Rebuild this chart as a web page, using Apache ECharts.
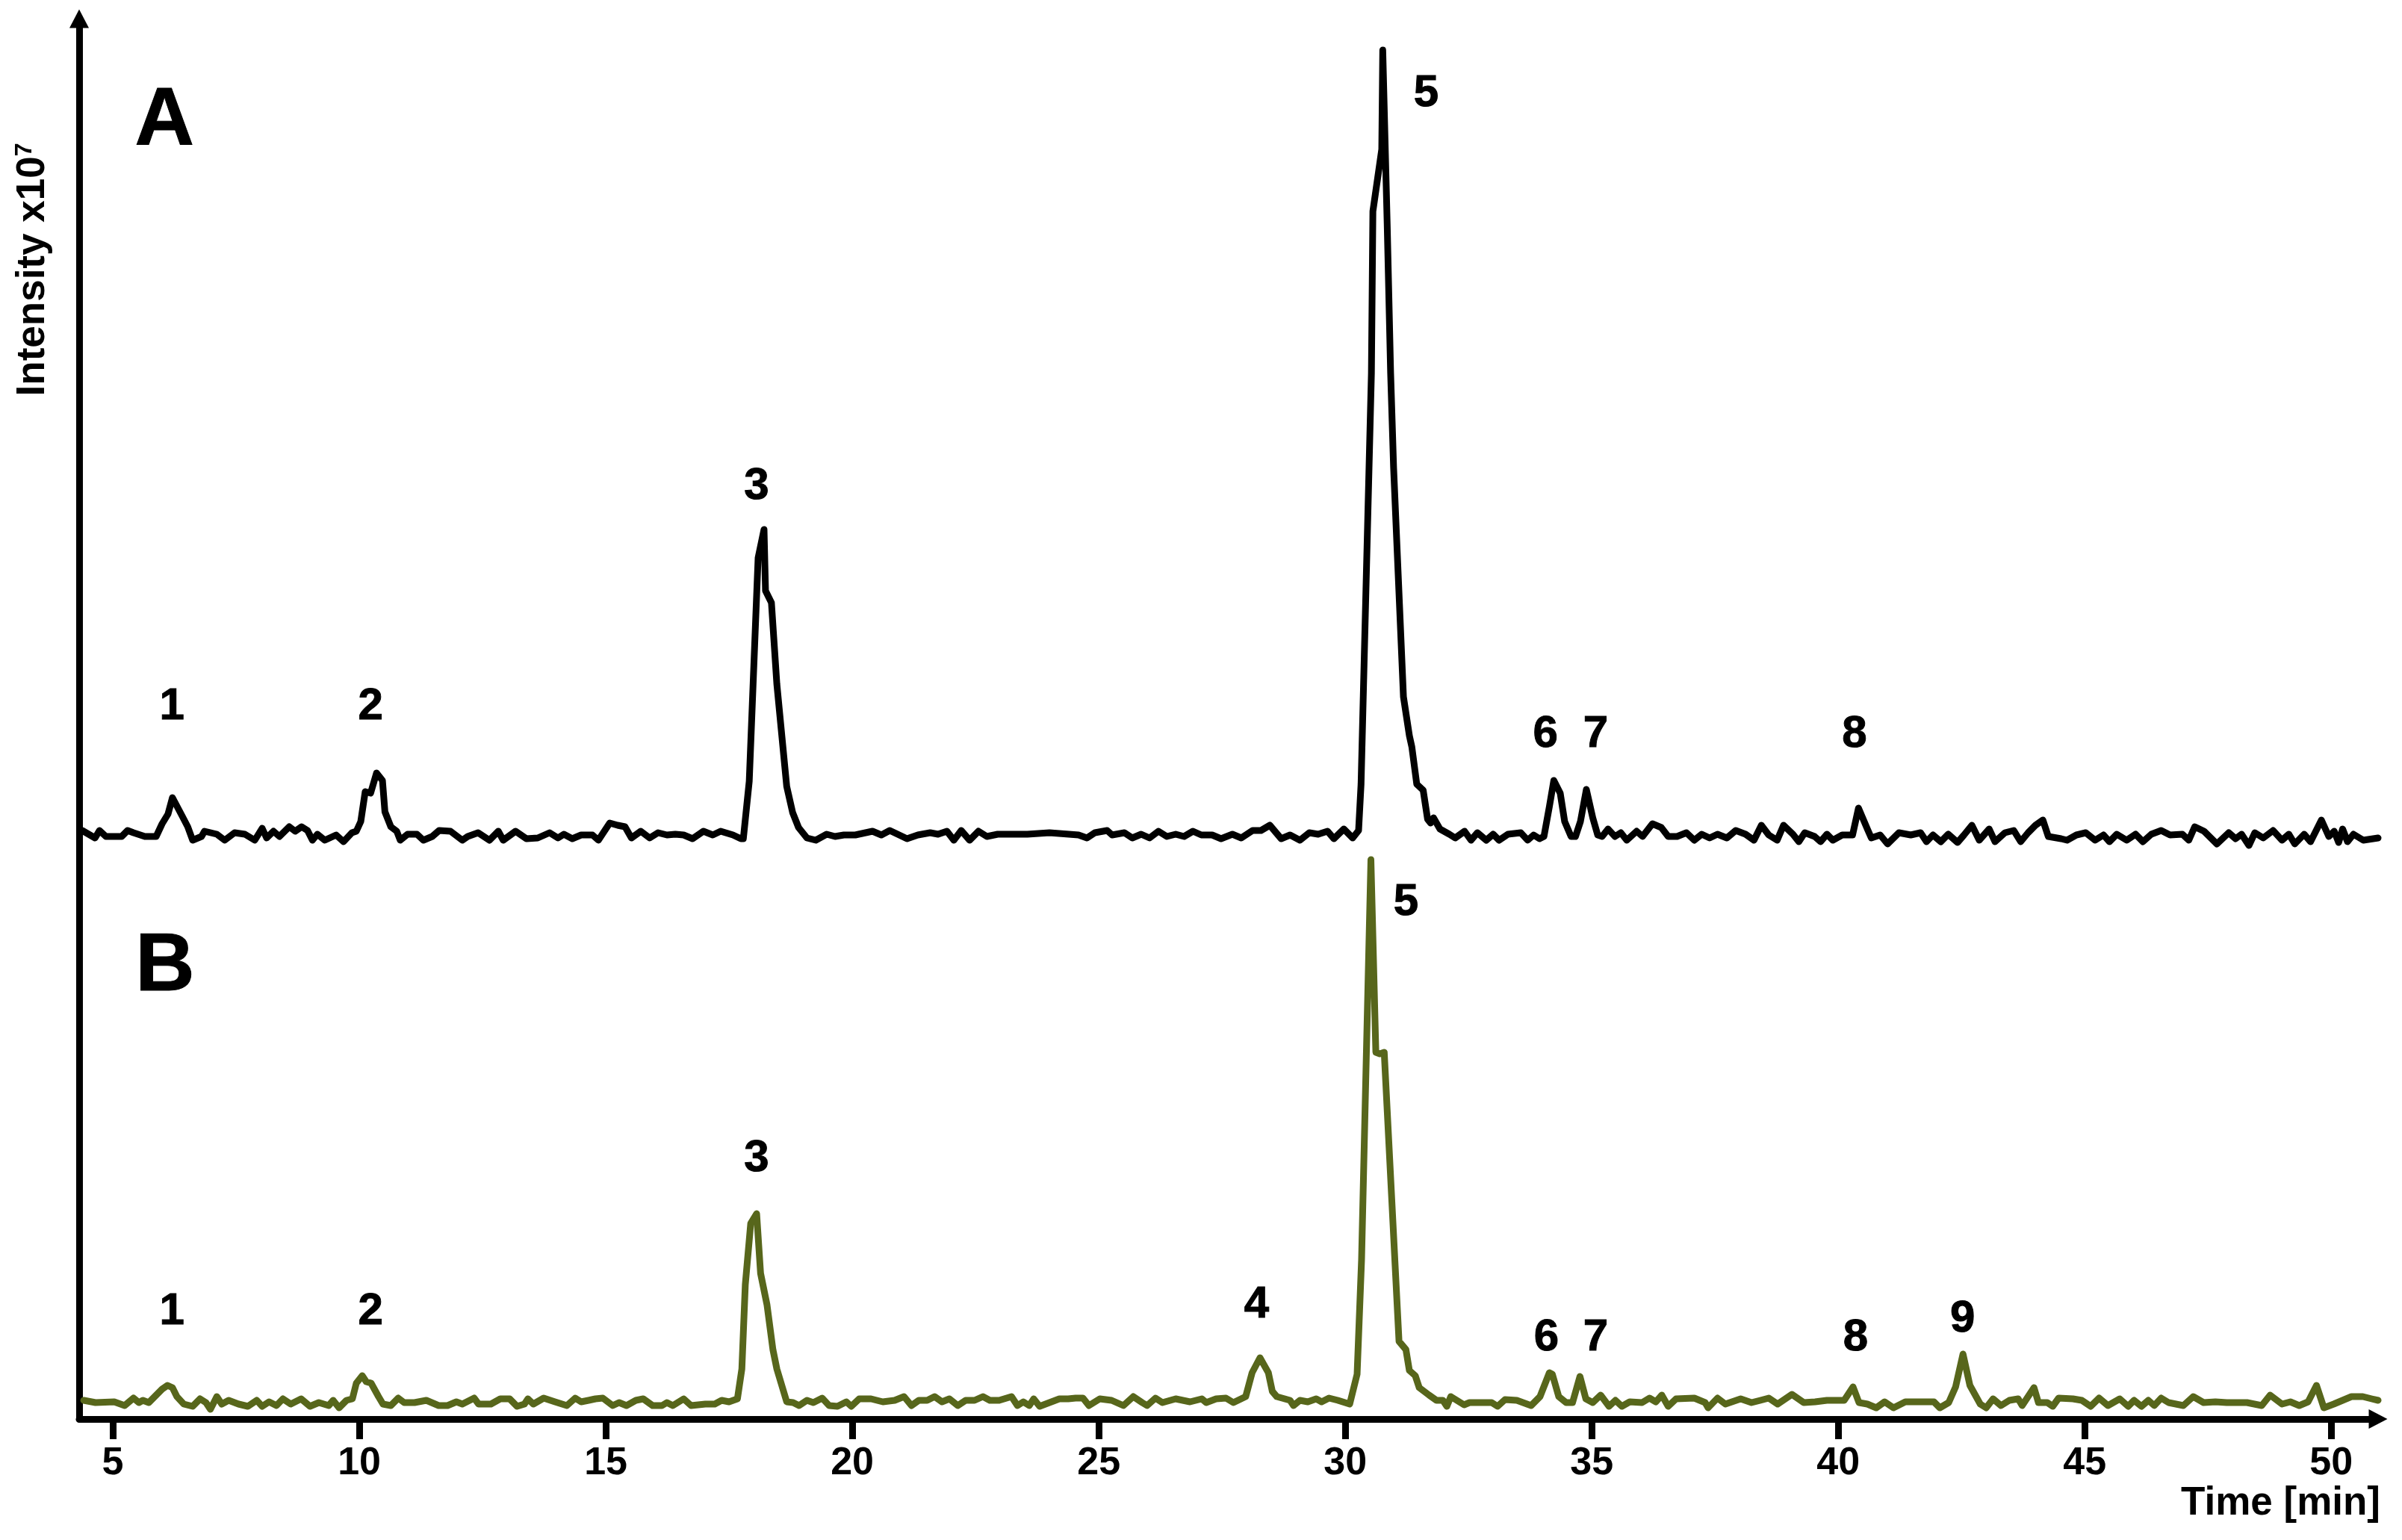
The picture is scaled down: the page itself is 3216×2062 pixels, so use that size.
<!DOCTYPE html>
<html><head><meta charset="utf-8">
<script src="https://cdn.jsdelivr.net/npm/echarts@6/dist/echarts.min.js"></script>
<style>html,body{margin:0;padding:0;background:#fff}#chart{width:3216px;height:2062px}</style>
</head><body><div id="chart"></div>
<script>
// ---- Chromatogram A (black) ----
const timeA = [4.38,4.64,4.73,4.86,5.18,5.30,5.42,5.65,5.88,6.00,6.12,6.21,6.41,6.52,6.62,6.80,6.86,7.11,7.27,7.47,7.68,7.88,8.03,8.12,8.26,8.38,8.58,8.70,8.83,8.95,9.05,9.15,9.30,9.53,9.68,9.85,9.94,10.03,10.12,10.23,10.35,10.47,10.52,10.64,10.76,10.83,10.98,11.17,11.30,11.48,11.62,11.85,12.09,12.20,12.41,12.64,12.82,12.92,13.17,13.39,13.62,13.86,14.03,14.15,14.32,14.50,14.73,14.85,15.08,15.24,15.39,15.52,15.71,15.89,16.06,16.24,16.41,16.58,16.76,16.98,17.17,17.33,17.58,17.74,17.79,17.91,18.09,18.21,18.24,18.36,18.47,18.67,18.79,18.91,19.08,19.26,19.48,19.65,19.83,20.06,20.41,20.59,20.76,20.92,21.11,21.33,21.58,21.74,21.92,22.06,22.21,22.38,22.56,22.73,22.95,23.20,23.55,24.00,24.59,24.76,24.92,25.17,25.27,25.52,25.68,25.86,26.03,26.21,26.38,26.56,26.73,26.91,27.08,27.30,27.48,27.71,27.89,28.12,28.29,28.47,28.70,28.88,29.08,29.27,29.45,29.64,29.77,29.97,30.15,30.27,30.32,30.53,30.56,30.74,30.76,30.85,30.92,30.98,31.18,31.30,31.35,31.45,31.58,31.67,31.73,31.79,31.92,32.11,32.23,32.42,32.55,32.68,32.86,33.00,33.12,33.30,33.56,33.70,33.82,33.94,34.03,34.14,34.23,34.36,34.45,34.58,34.67,34.77,34.89,35.02,35.12,35.21,35.33,35.47,35.59,35.71,35.91,36.03,36.23,36.41,36.55,36.73,36.92,37.08,37.23,37.39,37.55,37.74,37.92,38.12,38.29,38.44,38.59,38.76,38.89,39.08,39.20,39.32,39.52,39.64,39.77,39.89,40.08,40.29,40.41,40.59,40.67,40.85,41.00,41.23,41.47,41.67,41.79,41.92,42.08,42.23,42.42,42.55,42.71,42.86,43.06,43.18,43.38,43.56,43.70,43.85,44.00,44.15,44.26,44.52,44.64,44.83,45.02,45.21,45.38,45.50,45.65,45.85,46.03,46.18,46.35,46.55,46.73,46.98,47.11,47.23,47.42,47.68,47.92,48.06,48.18,48.33,48.45,48.62,48.82,49.00,49.14,49.26,49.45,49.58,49.80,49.95,50.06,50.15,50.23,50.33,50.45,50.65,50.95];
const intensityA = [0.28,0.18,0.28,0.20,0.20,0.28,0.25,0.20,0.20,0.37,0.50,0.72,0.47,0.33,0.15,0.20,0.27,0.23,0.15,0.25,0.23,0.15,0.31,0.18,0.27,0.20,0.33,0.27,0.33,0.28,0.15,0.23,0.15,0.22,0.13,0.25,0.27,0.40,0.80,0.78,1.05,0.95,0.53,0.33,0.27,0.15,0.23,0.23,0.15,0.20,0.28,0.27,0.15,0.20,0.25,0.15,0.27,0.15,0.27,0.17,0.18,0.25,0.18,0.23,0.17,0.22,0.22,0.15,0.38,0.35,0.33,0.18,0.27,0.18,0.25,0.22,0.23,0.22,0.17,0.27,0.22,0.27,0.22,0.17,0.17,0.94,3.93,4.31,3.49,3.33,2.24,0.87,0.52,0.32,0.18,0.15,0.23,0.20,0.22,0.22,0.27,0.22,0.28,0.23,0.17,0.22,0.25,0.23,0.27,0.15,0.28,0.15,0.27,0.20,0.23,0.23,0.23,0.25,0.22,0.18,0.25,0.28,0.22,0.25,0.18,0.23,0.18,0.27,0.20,0.23,0.20,0.27,0.22,0.22,0.17,0.23,0.18,0.28,0.28,0.35,0.17,0.22,0.15,0.25,0.23,0.27,0.17,0.30,0.18,0.28,0.90,6.40,8.57,9.40,10.73,8.40,6.40,5.14,2.07,1.55,1.40,0.90,0.82,0.43,0.38,0.45,0.30,0.23,0.18,0.27,0.15,0.25,0.15,0.23,0.15,0.23,0.25,0.15,0.22,0.17,0.20,0.60,0.95,0.78,0.40,0.20,0.20,0.40,0.83,0.45,0.22,0.20,0.30,0.20,0.25,0.15,0.27,0.20,0.37,0.32,0.20,0.20,0.25,0.15,0.23,0.18,0.23,0.18,0.28,0.23,0.15,0.35,0.22,0.15,0.35,0.23,0.13,0.25,0.20,0.13,0.23,0.15,0.22,0.22,0.58,0.30,0.18,0.22,0.10,0.25,0.22,0.25,0.13,0.22,0.13,0.23,0.12,0.22,0.35,0.15,0.30,0.13,0.25,0.28,0.13,0.25,0.35,0.42,0.20,0.17,0.15,0.22,0.25,0.15,0.22,0.13,0.23,0.15,0.23,0.13,0.23,0.28,0.22,0.23,0.15,0.33,0.27,0.10,0.25,0.17,0.23,0.08,0.25,0.18,0.28,0.15,0.23,0.10,0.23,0.13,0.42,0.20,0.27,0.12,0.30,0.13,0.23,0.15,0.18];

// ---- Chromatogram B (olive) ----
const timeB = [4.41,4.65,5.03,5.24,5.42,5.53,5.61,5.73,5.85,6.00,6.11,6.21,6.30,6.44,6.62,6.77,6.89,6.98,7.11,7.21,7.35,7.55,7.74,7.92,8.03,8.17,8.32,8.45,8.61,8.82,9.00,9.18,9.38,9.47,9.59,9.74,9.86,9.94,10.06,10.14,10.24,10.39,10.48,10.64,10.79,10.91,11.12,11.36,11.61,11.79,11.97,12.09,12.33,12.42,12.67,12.86,13.05,13.20,13.35,13.42,13.53,13.74,13.97,14.21,14.38,14.50,14.65,14.79,14.94,15.14,15.27,15.42,15.61,15.76,15.95,16.14,16.24,16.36,16.58,16.73,17.02,17.21,17.35,17.50,17.67,17.76,17.83,17.94,18.06,18.14,18.27,18.39,18.47,18.67,18.80,18.92,19.08,19.21,19.39,19.53,19.70,19.88,19.98,20.14,20.38,20.62,20.86,21.05,21.20,21.35,21.52,21.67,21.82,21.97,22.14,22.30,22.48,22.65,22.79,22.98,23.23,23.35,23.47,23.59,23.68,23.80,24.00,24.20,24.38,24.53,24.68,24.80,25.02,25.26,25.50,25.70,25.88,25.98,26.15,26.29,26.56,26.85,27.09,27.18,27.38,27.58,27.73,27.98,28.11,28.27,28.44,28.52,28.61,28.88,28.95,29.08,29.24,29.41,29.52,29.67,29.85,30.09,30.24,30.33,30.52,30.62,30.70,30.79,31.09,31.23,31.30,31.42,31.50,31.70,31.85,31.98,32.06,32.14,32.41,32.52,32.97,33.09,33.24,33.48,33.77,33.95,34.14,34.20,34.33,34.48,34.61,34.76,34.88,35.02,35.18,35.35,35.48,35.61,35.77,36.02,36.17,36.30,36.42,36.55,36.71,37.08,37.30,37.36,37.55,37.71,38.02,38.24,38.42,38.59,38.77,39.06,39.30,39.53,39.77,40.12,40.30,40.42,40.59,40.77,40.94,41.12,41.36,41.94,42.06,42.24,42.38,42.53,42.67,42.88,43.00,43.14,43.30,43.47,43.65,43.73,43.97,44.06,44.24,44.35,44.47,44.76,44.94,45.12,45.29,45.47,45.71,45.88,46.00,46.15,46.29,46.41,46.55,46.70,47.00,47.20,47.41,47.65,47.88,48.29,48.59,48.76,49.00,49.17,49.35,49.53,49.70,49.85,50.05,50.23,50.41,50.64,50.82,50.95];
const intensityB = [0.25,0.22,0.23,0.18,0.28,0.22,0.25,0.22,0.30,0.40,0.45,0.42,0.30,0.20,0.17,0.27,0.22,0.13,0.30,0.20,0.25,0.20,0.17,0.25,0.17,0.23,0.18,0.27,0.20,0.27,0.17,0.22,0.18,0.25,0.15,0.25,0.27,0.48,0.58,0.50,0.48,0.30,0.20,0.18,0.28,0.22,0.22,0.25,0.18,0.18,0.23,0.20,0.28,0.20,0.20,0.27,0.27,0.17,0.20,0.27,0.20,0.28,0.23,0.18,0.28,0.23,0.25,0.27,0.28,0.18,0.22,0.18,0.25,0.27,0.18,0.18,0.22,0.18,0.27,0.18,0.20,0.20,0.25,0.23,0.27,0.67,1.80,2.62,2.75,1.95,1.53,0.93,0.67,0.23,0.22,0.18,0.25,0.22,0.28,0.18,0.17,0.23,0.17,0.27,0.27,0.23,0.25,0.30,0.18,0.25,0.25,0.30,0.23,0.27,0.18,0.25,0.25,0.30,0.25,0.25,0.30,0.18,0.23,0.18,0.27,0.17,0.22,0.27,0.27,0.28,0.28,0.18,0.27,0.25,0.18,0.30,0.22,0.18,0.28,0.22,0.27,0.23,0.27,0.22,0.27,0.28,0.22,0.30,0.62,0.82,0.62,0.37,0.30,0.25,0.18,0.25,0.23,0.27,0.23,0.28,0.25,0.20,0.60,2.13,7.49,4.91,4.89,4.91,1.04,0.93,0.65,0.58,0.42,0.32,0.25,0.25,0.17,0.30,0.19,0.22,0.22,0.17,0.26,0.25,0.18,0.30,0.62,0.60,0.30,0.22,0.22,0.57,0.27,0.22,0.32,0.17,0.25,0.17,0.23,0.22,0.28,0.23,0.32,0.17,0.27,0.28,0.22,0.15,0.28,0.20,0.27,0.22,0.25,0.28,0.20,0.33,0.22,0.23,0.25,0.25,0.43,0.22,0.20,0.15,0.23,0.15,0.23,0.23,0.15,0.22,0.43,0.87,0.45,0.20,0.15,0.27,0.18,0.25,0.27,0.18,0.42,0.22,0.22,0.17,0.28,0.27,0.25,0.17,0.28,0.18,0.27,0.17,0.25,0.17,0.25,0.18,0.28,0.22,0.18,0.30,0.22,0.23,0.22,0.22,0.18,0.32,0.20,0.23,0.18,0.23,0.45,0.15,0.20,0.25,0.30,0.30,0.27,0.25];

// ---- axis ticks ----
const xTickValues = [5, 10, 15, 20, 25, 30, 35, 40, 45, 50];

// ---- peak annotations (time, height above each trace's zero) ----
const peakNamesA = ['1','2','3','5','6','7','8'];
const peakTimesA = [6.20, 10.23, 18.06, 31.64, 34.06, 35.08, 40.33];
const peakLabelHeightsA = [1.94, 1.94, 4.89, 10.15, 1.57, 1.57, 1.57];
const peakNamesB = ['1','2','3','4','5','6','7','8','9'];
const peakTimesB = [6.20, 10.23, 18.06, 28.20, 31.23, 34.08, 35.08, 40.35, 42.52];
const peakLabelHeightsB = [1.44, 1.44, 3.49, 1.53, 6.92, 1.09, 1.09, 1.09, 1.34];
const panelNames = ['A', 'B'];
const panelTimes = [6.05, 6.06];
const panelHeights = [9.77, 6.04];

// layout constants
const OFFSET_A = 7.6;   // vertical stacking of trace A
const OFFSET_B = 0;
const FONT = '"Liberation Sans", Arial, Helvetica, sans-serif';

const zip = (ts, vs, off) => ts.map((t, i) => [t, vs[i] + off]);

const chart = echarts.init(document.getElementById('chart'), null, {renderer: 'canvas'});
const textLabel = (size) => ({show: true, position: 'inside', formatter: p => p.value[2],
  fontSize: size, fontWeight: 'bold', fontFamily: FONT, color: '#000', opacity: 1,
  textBorderColor: '#000', textBorderWidth: 1});
const labelSeries = (names, times, heights, off, size) => ({
  type: 'scatter', symbolSize: 0, itemStyle: {color: '#000', opacity: 1}, silent: true,
  data: names.map((n, i) => [times[i], heights[i] + off, n]),
  label: textLabel(size),
  emphasis: {disabled: true},
  z: 5
});

chart.setOption({
  animation: false,
  backgroundColor: '#fff',
  grid: {left: 106, right: 32, top: 25, bottom: 162, containLabel: false, outerBoundsMode: 'none'},
  xAxis: {
    type: 'value', min: 4.318, max: 50.95,
    axisLine: {show: true, onZero: false, symbol: ['none', 'triangle'], symbolSize: [26, 25],
      lineStyle: {color: '#000', width: 9}},
    axisTick: {show: true, length: 27, customValues: xTickValues, lineStyle: {color: '#000', width: 9}},
    axisLabel: {show: true, customValues: xTickValues, margin: 34, fontSize: 52, fontWeight: 'bold',
      fontFamily: FONT, color: '#000'},
    splitLine: {show: false}
  },
  yAxis: {
    type: 'value', min: 0, max: 18.75,
    axisLine: {show: true, onZero: false, symbol: ['none', 'triangle'], symbolSize: [26, 25],
      lineStyle: {color: '#000', width: 9}},
    axisTick: {show: false}, axisLabel: {show: false}, splitLine: {show: false}
  },
  series: [
    {type: 'line', data: zip(timeB, intensityB, OFFSET_B), showSymbol: false, clip: false,
      lineStyle: {color: '#57661b', width: 9, cap: 'round', join: 'round'}, z: 3},
    {type: 'line', data: zip(timeA, intensityA, OFFSET_A), showSymbol: false, clip: false,
      lineStyle: {color: '#000', width: 9, cap: 'round', join: 'round'}, z: 4},
    labelSeries(peakNamesA, peakTimesA, peakLabelHeightsA, OFFSET_A, 60),
    labelSeries(peakNamesB, peakTimesB, peakLabelHeightsB, OFFSET_B, 60),
    {type: 'scatter', symbolSize: 0, itemStyle: {color: '#000', opacity: 1}, silent: true,
      data: panelNames.map((n, i) => [panelTimes[i], panelHeights[i] + (i === 0 ? OFFSET_A : OFFSET_B), n]),
      label: textLabel(110), emphasis: {disabled: true}, z: 5}
  ],
  graphic: [
    {type: 'text', x: 44, y: 361, rotation: Math.PI / 2,
      style: {text: 'Intensity x10{sup|7}', fontSize: 53, fontWeight: 'bold', fontFamily: FONT, fill: '#000',
        align: 'center', verticalAlign: 'middle',
        rich: {sup: {fontSize: 32, fontWeight: 'bold', fontFamily: FONT, fill: '#000', verticalAlign: 'top', padding: [0, 0, 18, 0]}}}},
    {type: 'text', x: 3187, y: 2013,
      style: {text: 'Time [min]', fontSize: 53, fontWeight: 'bold', fontFamily: FONT, fill: '#000',
        align: 'right', verticalAlign: 'middle'}}
  ]
});
</script></body></html>
